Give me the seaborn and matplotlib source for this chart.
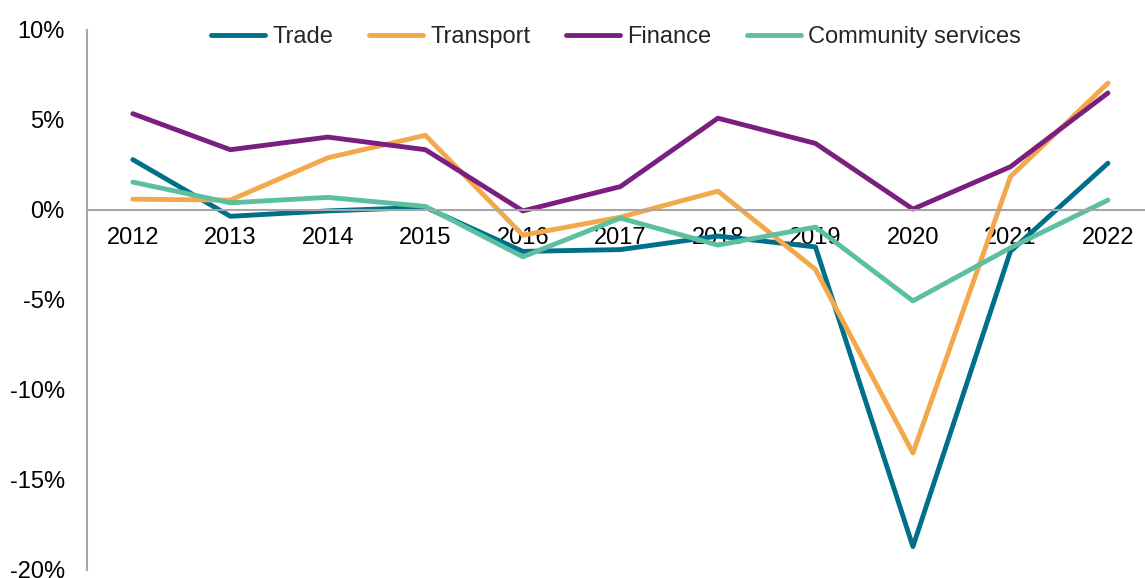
import pandas as pd
import matplotlib.pyplot as plt
import seaborn as sns

# Annual growth by sector, %
years = [2012, 2013, 2014, 2015, 2016, 2017, 2018, 2019, 2020, 2021, 2022]
trade = [2.8, -0.35, -0.05, 0.15, -2.3, -2.2, -1.45, -2.05, -18.7, -2.3, 2.6]
transport = [0.6, 0.55, 2.9, 4.15, -1.4, -0.4, 1.05, -3.3, -13.5, 1.85, 7.05]
finance = [5.35, 3.35, 4.05, 3.35, -0.05, 1.3, 5.1, 3.7, 0.05, 2.4, 6.5]
community = [1.55, 0.4, 0.7, 0.2, -2.6, -0.45, -1.95, -0.95, -5.05, -2.1, 0.55]

series_names = ['Trade', 'Transport', 'Finance', 'Community services']
colors = ['#00708a', '#f2a84b', '#7a1f7f', '#5bbfa0']

rows = []
for name, vals in zip(series_names, [trade, transport, finance, community]):
    for i, (yr, v) in enumerate(zip(years, vals)):
        rows.append({'idx': i, 'year': yr, 'value': v, 'sector': name})
df = pd.DataFrame(rows)

sns.set_style('white')
plt.rcParams['font.family'] = ['Liberation Sans', 'DejaVu Sans']

fig = plt.figure(figsize=(11.45, 5.78), dpi=100)
ax = fig.add_axes([87 / 1145, 1 - 570 / 578, 1 - 87 / 1145, 540 / 578])

sns.lineplot(data=df, x='idx', y='value', hue='sector', hue_order=series_names,
             palette=colors, linewidth=3.5, ax=ax, legend=True)

ax.set_xlim(-0.47, 10.38)
ax.set_ylim(-20, 10)
ax.set_xticks(range(len(years)))
ax.set_xticklabels([str(y) for y in years])
ax.set_yticks([-20, -15, -10, -5, 0, 5, 10])
ax.set_yticklabels([f'{v}%' for v in [-20, -15, -10, -5, 0, 5, 10]])
ax.set_xlabel('')
ax.set_ylabel('')

for s in ['top', 'right']:
    ax.spines[s].set_visible(False)
ax.spines['bottom'].set_position(('data', 0))
ax.spines['bottom'].set_color('#a6a6a6')
ax.spines['bottom'].set_linewidth(1.5)
ax.spines['left'].set_color('#a6a6a6')
ax.spines['left'].set_linewidth(1.5)
ax.tick_params(axis='x', length=0, pad=12, labelsize=17, colors='black')
ax.tick_params(axis='y', length=0, pad=16, labelsize=17, colors='black')

leg = ax.legend(loc='center', bbox_to_anchor=(0.5, (570 - 37) / 540), ncol=4,
                frameon=False, fontsize=17, handlelength=2.3, handletextpad=0.3,
                columnspacing=1.5)
for line in leg.get_lines():
    line.set_linewidth(3.5)
    line.set_solid_capstyle('round')
for line in ax.get_lines():
    line.set_solid_capstyle('round')
    line.set_solid_joinstyle('round')

fig.savefig('out.png', dpi=100)
